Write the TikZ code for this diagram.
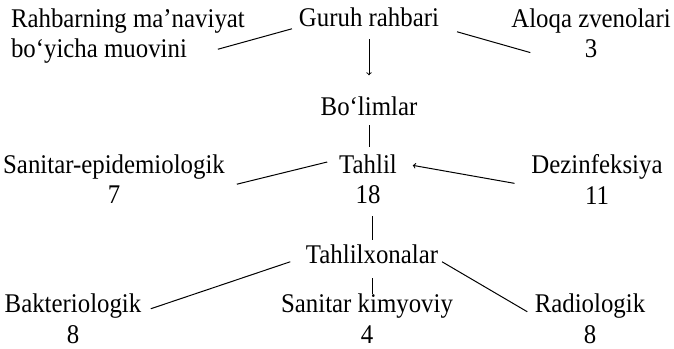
\documentclass[tikz,border=0pt]{standalone}
\usepackage{fontspec}
\setmainfont{Liberation Serif}[FakeStretch=0.92]

\begin{document}
\begin{tikzpicture}[x=1pt, y=-1pt, >=to, line width=1pt,
    lbl/.style={inner sep=0pt, outer sep=0pt, align=center,
        font=\fontsize{27}{30.5}\selectfont}]
\useasboundingbox (0,0) rectangle (674,348);
% top row
\node[lbl, align=left, anchor=north west] (muovin) at (11,8.6) {Rahbarning ma’naviyat\\bo‘yicha muovini};
\node[lbl, anchor=base] (guruh) at (369,27) {Guruh rahbari};
\node[lbl, anchor=north] (aloqa) at (591,8.6) {Aloqa zvenolari\\3};
\node[lbl, anchor=base] (bolim) at (369,115) {Bo‘limlar};
% bo'limlar
\node[lbl, anchor=north] (sanepid) at (114,154.6) {Sanitar-epidemiologik\\7};
\node[lbl, anchor=north] (tahlil) at (368,154.6) {Tahlil\\18};
\node[lbl, anchor=north] (dezinf) at (597,154.6) {Dezinfeksiya\\11};
% tahlilxonalar
\node[lbl, anchor=base] (xona) at (372,263) {Tahlilxonalar};
\node[lbl, anchor=north] (bakter) at (73,294) {Bakteriologik\\8};
\node[lbl, anchor=north] (kimyo) at (367,294) {Sanitar kimyoviy\\4};
\node[lbl, anchor=north] (radio) at (590,294) {Radiologik\\8};

\draw ([shift={(-27,-14.4)}]muovin.south east) -- ([shift={(-7,11)}]guruh.west);
\draw ([shift={(18,14)}]guruh.east) -- ([shift={(19,-5.5)}]aloqa.south west);
\draw[->, shorten <=12pt, shorten >=21pt] (guruh.south) -- (guruh.south |- bolim.north);
\draw[shorten <=10pt, shorten >=7.6pt] (bolim.south) -- (bolim.south |- tahlil.north);

\draw ([shift={(12,5)}]sanepid.east) -- ([shift={(-12,7.4)}]tahlil.north west);
\draw[->] ([shift={(-17,4)}]dezinf.west) -- ([shift={(16,-14)}]tahlil.east);
\draw[shorten <=4.6pt, shorten >=11.5pt] (xona.north) -- (xona.north |- tahlil.south);

\draw ([shift={(-15.7,8)}]xona.west) -- ([shift={(9.5,-10)}]bakter.east);
\draw[shorten <=15pt] (xona.south) -- (xona.south |- kimyo.north);
\draw ([shift={(4,8)}]xona.east) -- ([shift={(-7.5,-7)}]radio.west);
\end{tikzpicture}
\end{document}
